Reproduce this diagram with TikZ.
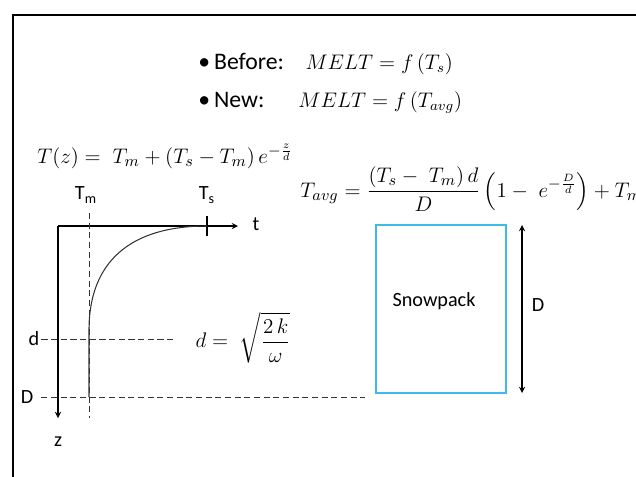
\documentclass[tikz,border=0pt]{standalone}
\usepackage[no-math]{fontspec}
\setmainfont{Carlito}
\usepackage{amsmath}
\definecolor{snowblue}{RGB}{64,186,235}
\newcommand{\bulmath}{\fontsize{11.5}{13}\selectfont}
\begin{document}
\begin{tikzpicture}[x=0.02cm, y=-0.02cm, >=stealth,
    lbl/.style={font=\fontsize{11.5}{13}\selectfont, inner sep=1pt},
    bul/.style={font=\fontsize{13.5}{16}\selectfont, inner sep=0pt, anchor=base west},
    eqn/.style={font=\fontsize{12.4}{14}\selectfont, inner sep=0pt, anchor=base west},
    guide/.style={dash pattern=on 3.5pt off 2pt, thin, black!80},
    axis/.style={semithick, black}]
    \useasboundingbox (0,0) rectangle (636,477);
    % Frame
    \draw[line width=1.7pt] (636,15) -| (13,477);

    % Before / new
    \node[bul] (before) at (198,69) {\makebox[61pt][l]{\textbullet\,Before:}{\bulmath$MELT = f\,(T_s)$}};
    \node[bul] (new) at (198,107) {\makebox[57pt][l]{\textbullet\,New:}{\bulmath$MELT = f\,(T_{avg})$}};

    % Formulas
    \node[eqn] (tz) at (37,163) {$T(z) = \;T_m + (T_s - T_m)\,e^{-\frac{z}{d}}$};
    \node[eqn, font=\fontsize{13}{15}\selectfont] (tavg) at (300,197) {$\displaystyle T_{avg} = \frac{(T_s -\; T_m)\,d}{D}\left(1 -\; e^{-\frac{D}{d}}\right) + T_m$};
    \node[eqn, anchor=center] (dform) at (243,338) {$\displaystyle d = \;\sqrt{\frac{2\,k}{\omega}}$};

    % Axes
    \coordinate (O) at (58,226);
    \coordinate (tend) at (238,226);
    \coordinate (zend) at (58,418);
    \node[lbl] (tlab) at (256,224) {t};
    \node[lbl] (zlab) at (58,442) {z};
    \draw[axis, ->] (O) -- (tend);
    \draw[axis, ->] (O) -- (zend);

    % Tm and Ts
    \node[lbl] (tmlab) at (86,195) {T\textsubscript{m}};
    \node[lbl] (tslab) at (207,195) {T\textsubscript{s}};
    \coordinate (tmtop) at (89,213);
    \coordinate (tmbot) at (89,418);
    \draw[guide] (tmtop) -- (tmbot);
    \coordinate (ts) at (207,226);
    \draw[axis] (207,216) -- (207,236);

    % Depths d and D
    \node[lbl] (dlab) at (34,339) {d};
    \node[lbl] (Dlab) at (27,397) {D};
    \coordinate (dend) at (174,339);
    \coordinate (Dend) at (365,397);
    \draw[guide] (dlab.east) -- (dend);
    \draw[guide] (Dlab.east) ++(6,0) -- (Dend);

    % Temperature profile
    \coordinate (bend) at (89,330);
    \coordinate (pbot) at (89,397);
    \draw[black!80, semithick] (ts) .. controls (130,226) and (89,262) .. (bend) -- (pbot);

    % Snowpack
    \node[draw=snowblue, semithick, minimum width=2.6cm, minimum height=3.36cm, inner sep=0pt] (snow) at (441,309) {};
    \node[lbl] (snowlab) at (434,301) {Snowpack};
    \coordinate (dtop) at (522,225);
    \coordinate (dbot) at (522,393);
    \draw[axis, <->] (dtop) -- (dbot);
    \node[lbl] (Dside) at (538,305) {D};
\end{tikzpicture}
\end{document}
